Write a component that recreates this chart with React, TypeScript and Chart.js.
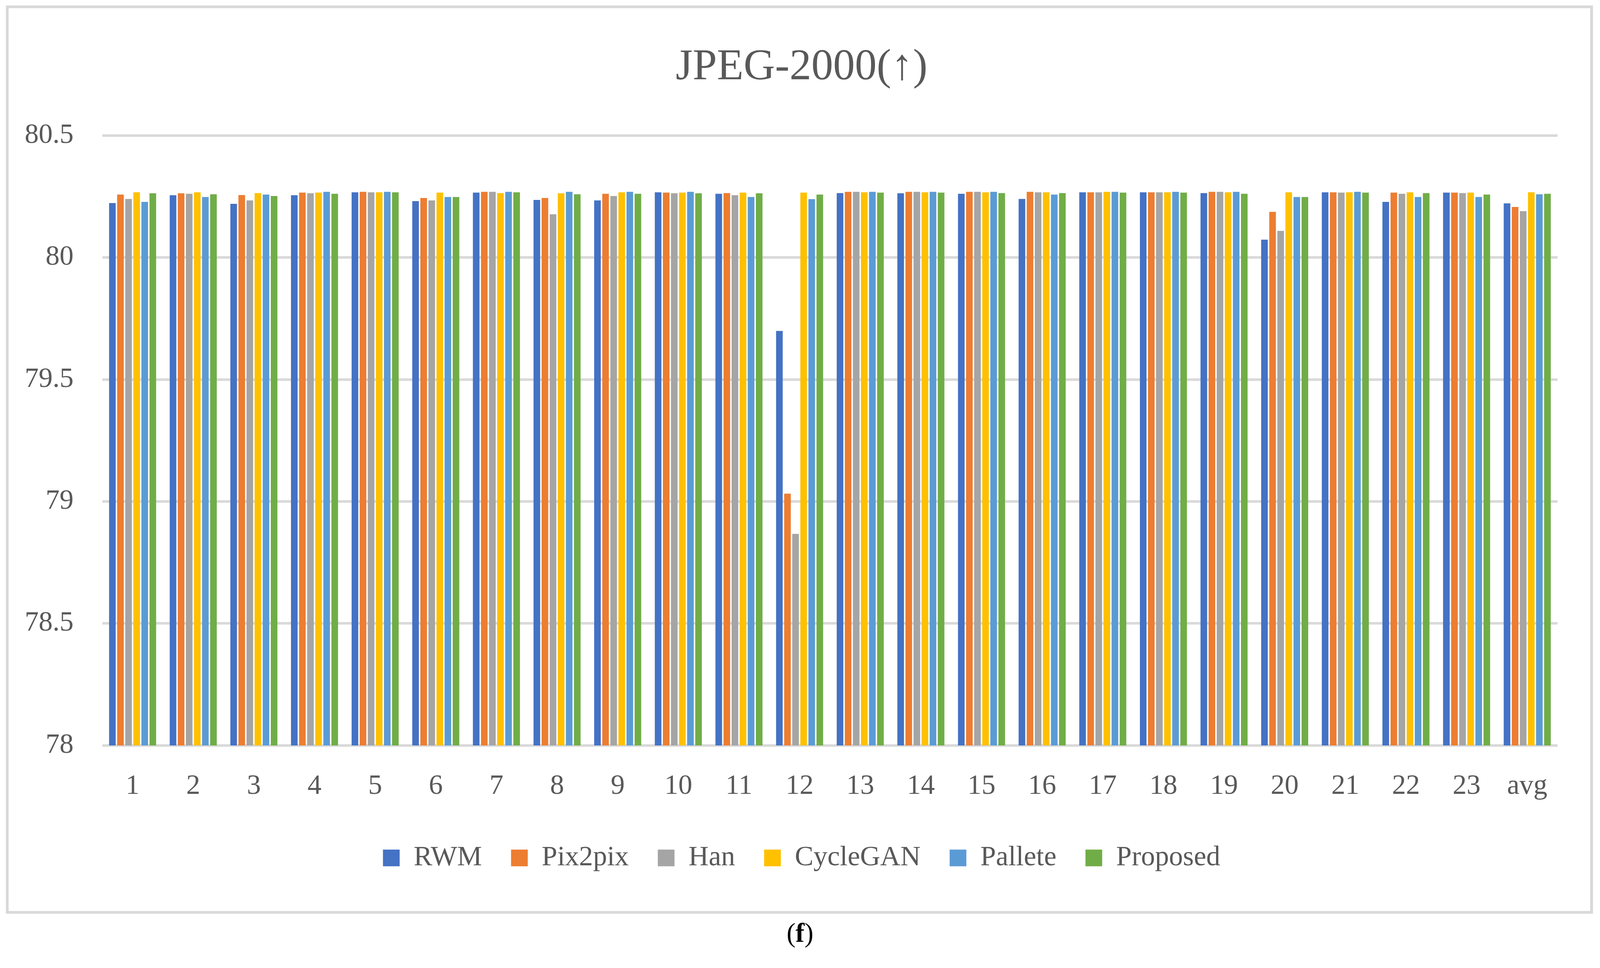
import React, { useEffect, useRef } from "react";
import { Chart, registerables } from "chart.js";

Chart.register(...registerables);

const categories = ["1", "2", "3", "4", "5", "6", "7", "8", "9", "10", "11", "12", "13", "14", "15", "16", "17", "18", "19", "20", "21", "22", "23", "avg"];

const rwm = [80.223, 80.255, 80.220, 80.255, 80.267, 80.231, 80.266, 80.236, 80.234, 80.267, 80.261, 79.699, 80.264, 80.263, 80.261, 80.240, 80.267, 80.267, 80.264, 80.073, 80.267, 80.228, 80.266, 80.222];
const pix2pix = [80.258, 80.263, 80.256, 80.266, 80.269, 80.244, 80.269, 80.244, 80.261, 80.266, 80.264, 79.032, 80.269, 80.269, 80.269, 80.269, 80.267, 80.267, 80.269, 80.187, 80.267, 80.266, 80.266, 80.207];
const han = [80.240, 80.261, 80.234, 80.263, 80.267, 80.234, 80.269, 80.177, 80.252, 80.263, 80.255, 78.867, 80.269, 80.269, 80.269, 80.267, 80.267, 80.267, 80.269, 80.109, 80.266, 80.261, 80.264, 80.190];
const cycleGAN = [80.267, 80.267, 80.264, 80.266, 80.267, 80.266, 80.264, 80.263, 80.267, 80.266, 80.266, 80.266, 80.267, 80.267, 80.267, 80.267, 80.269, 80.267, 80.267, 80.267, 80.267, 80.267, 80.266, 80.267];
const pallete = [80.228, 80.248, 80.258, 80.269, 80.269, 80.248, 80.269, 80.269, 80.269, 80.269, 80.248, 80.239, 80.269, 80.269, 80.269, 80.258, 80.269, 80.269, 80.269, 80.248, 80.269, 80.248, 80.248, 80.259];
const proposed = [80.263, 80.259, 80.252, 80.261, 80.267, 80.248, 80.267, 80.259, 80.261, 80.263, 80.263, 80.258, 80.266, 80.266, 80.264, 80.264, 80.266, 80.266, 80.261, 80.248, 80.266, 80.264, 80.258, 80.261];

const seriesNames = ["RWM", "Pix2pix", "Han", "CycleGAN", "Pallete", "Proposed"];
const seriesColors = ["#4472C4", "#ED7D31", "#A5A5A5", "#FFC000", "#5B9BD5", "#70AD47"];
const seriesValues = [rwm, pix2pix, han, cycleGAN, pallete, proposed];

const yMin = 78;
const yMax = 80.5;
const yStep = 0.5;

const FONT = "'Liberation Serif', 'Times New Roman', serif";
const TEXT = "#595959";
const GRID = "#D9D9D9";

const PAGE_W = 4406;
const PAGE_H = 2479;

export default function App() {
  const ref = useRef<HTMLCanvasElement | null>(null);

  const vw = typeof window !== "undefined" && window.innerWidth ? window.innerWidth : PAGE_W;
  const vh = typeof window !== "undefined" && window.innerHeight ? window.innerHeight : PAGE_H;
  const sx = vw / PAGE_W;
  const sy = vh / PAGE_H;
  const f = Math.min(sx, sy);

  const bw = Math.max(2, Math.round(7 * f));
  const boxL = Math.round(16 * sx);
  const boxT = Math.round(14 * sy);
  const boxW = Math.round(4370 * sx);
  const boxH = Math.round(2326 * sy);
  const cw = boxW - 2 * bw;
  const ch = boxH - 2 * bw;

  useEffect(() => {
    document.body.style.margin = "0";
    document.body.style.overflow = "hidden";
    if (!ref.current) return;
    const titleSize = 120 * f;
    const titleLine = titleSize * 1.2;
    const titleMid = 153 * sy;
    const plotTop = 326 * sy;
    const chart = new Chart(ref.current, {
      type: "bar",
      data: {
        labels: categories,
        datasets: seriesNames.map((name, i) => ({
          label: name,
          data: seriesValues[i],
          backgroundColor: seriesColors[i],
          borderWidth: 0,
          categoryPercentage: 0.8,
          barPercentage: 0.82,
          yAxisID: "y",
        })),
      },
      options: {
        responsive: false,
        animation: false,
        devicePixelRatio: 1,
        layout: { padding: { left: 12 * sx, right: 0, top: 0, bottom: 90 * sy } },
        plugins: {
          title: {
            display: true,
            text: "JPEG-2000(↑)",
            color: TEXT,
            font: { family: FONT, size: titleSize, weight: "normal", lineHeight: 1.2 },
            padding: {
              top: titleMid - titleLine / 2,
              bottom: plotTop - titleMid - titleLine / 2,
            },
          },
          legend: {
            display: true,
            position: "bottom",
            labels: {
              color: TEXT,
              font: { family: FONT, size: 77 * f },
              boxWidth: 46 * f,
              boxHeight: 46 * f,
              padding: 80 * sx,
            },
          },
          tooltip: { enabled: false },
        },
        scales: {
          x: {
            grid: { display: false, drawTicks: false },
            border: { display: false },
            ticks: {
              color: TEXT,
              font: { family: FONT, size: 77 * f },
              padding: 62 * sy,
              maxRotation: 0,
              autoSkip: false,
            },
            afterFit: (scale: any) => {
              scale.height = 178 * sy;
            },
          },
          y: {
            type: "linear",
            position: "left",
            min: yMin,
            max: yMax,
            grid: { color: GRID, lineWidth: 7 * f, drawTicks: false },
            border: { display: false },
            ticks: {
              stepSize: yStep,
              color: TEXT,
              font: { family: FONT, size: 77 * f },
              padding: 79 * sx,
              callback: (v: any) => `${Number(v)}`,
            },
            afterFit: (scale: any) => {
              scale.width = 246 * sx;
            },
          },
          yRight: {
            type: "linear",
            position: "right",
            display: true,
            grid: { display: false, drawTicks: false },
            border: { display: false },
            ticks: { display: false },
            afterFit: (scale: any) => {
              scale.width = 90 * sx;
            },
          },
        },
      },
    });
    return () => chart.destroy();
  }, []);

  return (
    <div
      style={{
        position: "fixed",
        left: 0,
        top: 0,
        width: vw,
        height: vh,
        overflow: "hidden",
        background: "#ffffff",
      }}
    >
      <div
        style={{
          position: "absolute",
          left: boxL,
          top: boxT,
          width: boxW,
          height: boxH,
          border: `${bw}px solid ${GRID}`,
          boxSizing: "border-box",
          background: "#ffffff",
        }}
      >
        <canvas
          ref={ref}
          width={cw}
          height={ch}
          style={{ display: "block", width: cw, height: ch }}
        />
      </div>
      <div
        style={{
          position: "absolute",
          left: 0,
          width: vw,
          top: 2350 * sy,
          textAlign: "center",
          fontFamily: FONT,
          fontSize: 74 * f,
          lineHeight: `${86 * f}px`,
          color: "#000000",
        }}
      >
        (<b>f</b>)
      </div>
    </div>
  );
}
